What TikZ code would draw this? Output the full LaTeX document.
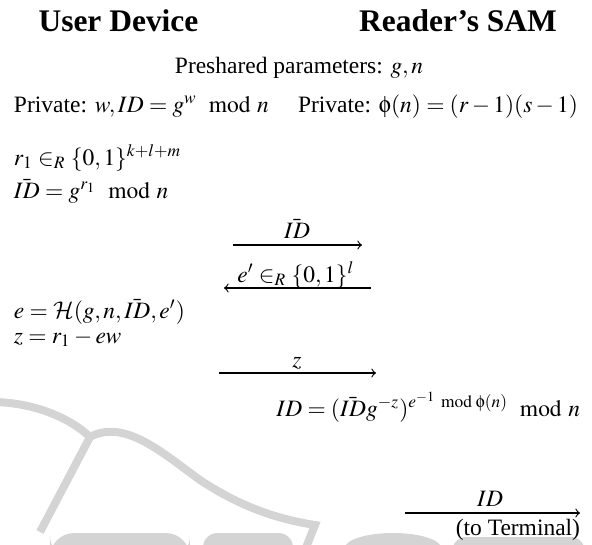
\documentclass[tikz,border=0pt]{standalone}
\usepackage{amsmath}
\usepackage{mathptmx}
\DeclareMathAlphabet{\mathcal}{OMS}{cmsy}{m}{n}
\DeclareSymbolFont{upsy}{U}{psy}{m}{n}
\DeclareMathSymbol{\uphi}{\mathord}{upsy}{`f}
\usepackage{fontspec}
\setmainfont{Liberation Serif}
\newcommand{\Md}{\mkern9mu\mathrm{mod}\mkern5mu}
\newcommand{\Ms}{\mkern6mu\mathrm{mod}\mkern4mu}
\definecolor{wmgray}{HTML}{D4D4D4}
\tikzset{
  lbl/.style={inner sep=0pt, outer sep=0pt, font=\fontsize{9.7}{11.6}\selectfont},
  ttl/.style={inner sep=0pt, outer sep=0pt, font=\fontsize{13}{15}\selectfont\bfseries},
  msg/.style={draw=black, line width=0.45pt, -to},
  wm/.style={draw=wmgray, line width=3.3pt},
  wmfill/.style={fill=wmgray}
}
\begin{document}
\begin{tikzpicture}[x=0.4132pt, y=-0.4132pt]
\useasboundingbox (0,0) rectangle (592,545);
% watermark
\begin{scope}
\clip (0,0) rectangle (592,545);
\draw[wm] (-5,402) .. controls (35,403) and (70,418) .. (90,437);
\draw[wm] (90,437) -- (40,532);
\draw[wm] (90,437) .. controls (125,418) and (165,455) .. (200,480)
  .. controls (235,503) and (270,518) .. (315,525) -- (305,550);
\fill[wmfill, rounded corners=10pt] (50,560) -- (50,533) -- (190,533) -- (190,560) -- cycle;
\fill[wmfill, rounded corners=6pt] (203,560) -- (203,533) -- (293,533) -- (293,560) -- cycle;
\fill[wmfill] (345,560) -- (345,548) arc[start angle=180, end angle=0, x radius=48, y radius=-15] -- (441,560) -- cycle;
\fill[wmfill, rounded corners=6pt] (452,560) -- (452,537) -- (585,537) -- (585,560) -- cycle;
\end{scope}
% titles
\node[ttl, anchor=base] (ud) at (118.5,31) {User Device};
\node[ttl, anchor=base] (rs) at (458,31) {Reader’s SAM};
% shared
\node[lbl, anchor=base] (pre) at (299,73) {Preshared parameters: $g,n$};
\node[lbl, anchor=base west] (pl) at (14,112) {Private: $w,ID=g^w\Md n$};
\node[lbl, anchor=base east] (pr) at (578,112) {Private: $\uphi(n)=(r-1)(s-1)$};
% user steps
\node[lbl, anchor=base west] (r1) at (14,165) {$r_1 \in_R \{0,1\}^{k+l+m}$};
\node[lbl, anchor=base west] (idb) at (14,198) {$\bar{ID}=g^{r_1}\Md n$};
% message 1
\coordinate (m1s) at (233,245);
\coordinate (m1e) at (362,245);
\draw[msg] (m1s) -- (m1e);
\node[lbl, anchor=base] (m1l) at (297,238) {$\bar{ID}$};
% message 2
\coordinate (m2s) at (371,288);
\coordinate (m2e) at (224,288);
\draw[msg] (m2s) -- (m2e);
\node[lbl, anchor=base] (m2l) at (296,282) {$e' \in_R \{0,1\}^l$};
% user computes
\node[lbl, anchor=base west] (eh) at (14,318) {$e=\mathcal{H}(g,n,\bar{ID},e')$};
\node[lbl, anchor=base west] (zz) at (14,343) {$z=r_1-ew$};
% message 3
\coordinate (m3s) at (219,373);
\coordinate (m3e) at (376,373);
\draw[msg] (m3s) -- (m3e);
\node[lbl, anchor=base] (m3l) at (297,367) {$z$};
% reader computes
\node[lbl, anchor=base east] (idf) at (580,416) {$ID=(\bar{ID}g^{-z})^{e^{-1}\Ms\uphi(n)}\Md n$};
% message 4
\coordinate (m4s) at (405,513);
\coordinate (m4e) at (580,513);
\draw[msg] (m4s) -- (m4e);
\node[lbl, anchor=base] (m4l) at (490,506) {$ID$};
\node[lbl, anchor=base east] (m4t) at (580,535) {(to Terminal)};
\end{tikzpicture}
\end{document}
